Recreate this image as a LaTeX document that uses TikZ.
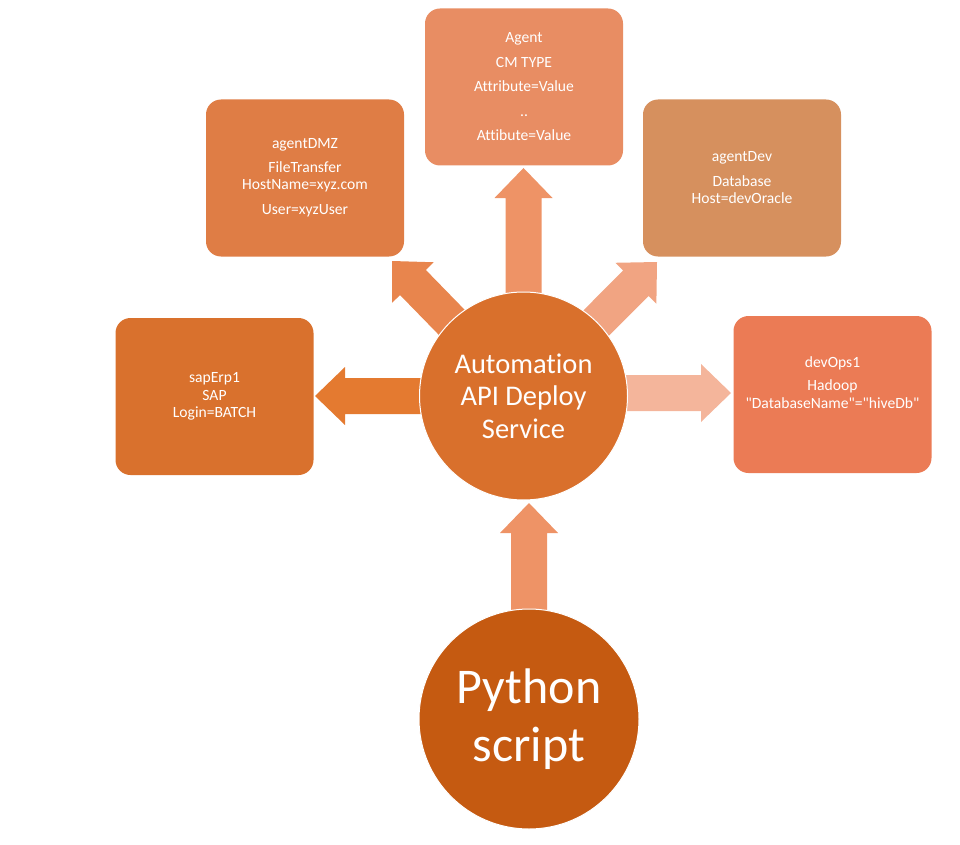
\documentclass[tikz,border=0pt]{standalone}
\usepackage{fontspec}
\setmainfont{Carlito}[Ligatures={TeX,NoCommon}]
\newfontfamily\plainqfont{Carlito}[Ligatures=NoCommon]
\usetikzlibrary{calc}
\definecolor{cCenter}{HTML}{D9702C}
\definecolor{cPy}{HTML}{C55A11}
\definecolor{cSap}{HTML}{D9712D}
\definecolor{cDmz}{HTML}{DF7D45}
\definecolor{cAgent}{HTML}{E88D63}
\definecolor{cDev}{HTML}{D6905E}
\definecolor{cOps}{HTML}{EB7B55}
\definecolor{aLeft}{HTML}{E47A30}
\definecolor{aUL}{HTML}{E8854D}
\definecolor{aUp}{HTML}{EE9366}
\definecolor{aUR}{HTML}{F1A482}
\definecolor{aRight}{HTML}{F4B59B}
\newcommand\blockarrow[3]{%
  \path coordinate (ab) at ($(#3)!30pt!(#2)$);
  \fill[#1] ($(#2)!18pt!90:(#3)$) -- ($(ab)!18pt!90:(#3)$) -- ($(ab)!29pt!90:(#3)$)
    -- (#3) -- ($(ab)!29pt!-90:(#3)$) -- ($(ab)!18pt!-90:(#3)$) -- ($(#2)!18pt!-90:(#3)$) -- cycle;}
\tikzset{
  boxnode/.style={rounded corners=15pt, minimum width=198pt, minimum height=157pt,
    text=white, align=center, inner sep=0pt, font=\fontsize{15.6}{17.5}\selectfont},
  bigcircle/.style={circle, draw=white, line width=1pt, text=white, align=center, inner sep=0pt}
}
\begin{document}
\begin{tikzpicture}[x=1pt,y=-1pt]
\useasboundingbox (0,0) rectangle (960,845);
% boxes
\node[boxnode, fill=cAgent] (agent) at (524,87) {Agent\\[7pt]CM TYPE\\[7pt]Attribute=Value\\[7pt]..\\[7pt]Attibute=Value};
\node[boxnode, fill=cDmz] (dmz) at (305,178) {agentDMZ\\[6pt]FileTransfer\\HostName=xyz.com\\[7pt]User=xyzUser};
\node[boxnode, fill=cDev] (dev) at (742,178) {agentDev\\[7pt]Database\\Host=devOracle};
\node[boxnode, fill=cOps] (ops) at (832.5,394.5) {devOps1\\[6pt]Hadoop\\{\plainqfont "DatabaseName"="hiveDb"}\\[7pt]~};
\node[boxnode, fill=cSap] (sap) at (214.5,396.5) {sapErp1\\SAP\\Login=BATCH};
% circle positions
\coordinate (cc) at (523.5,396);
\coordinate (pc) at (529,719);
% arrow tips
\coordinate (tUp) at (523.5,168);
\coordinate (tLeft) at (315,396);
\coordinate (tRight) at (731,393);
\coordinate (tUL) at (392,261);
\coordinate (tUR) at (657,262);
\coordinate (tBot) at (529,503);
\coordinate (sRight) at (523.5,393);
\coordinate (sBot) at (529,640);
\blockarrow{aLeft}{cc}{tLeft}
\blockarrow{aUL}{cc}{tUL}
\blockarrow{aUp}{cc}{tUp}
\blockarrow{aUR}{cc}{tUR}
\blockarrow{aRight}{sRight}{tRight}
\blockarrow{aUp}{sBot}{tBot}
% circles
\node[bigcircle, fill=cCenter, minimum size=208pt, font=\fontsize{28.5}{32.5}\selectfont] (center) at (cc) {Automation\\API Deploy\\Service};
\node[bigcircle, fill=cPy, minimum size=220pt, font=\fontsize{50}{57.5}\selectfont] (py) at (pc) {Python\\script};
\end{tikzpicture}
\end{document}
